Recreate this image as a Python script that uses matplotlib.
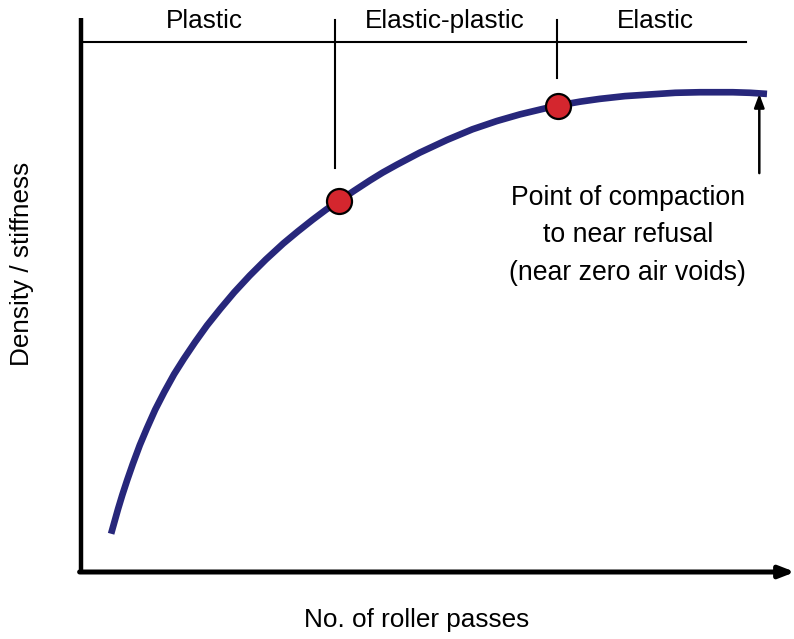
import matplotlib
import matplotlib.pyplot as plt

matplotlib.use('Agg')
plt.rcParams['font.family'] = ['Liberation Sans', 'DejaVu Sans']

# compaction curve (passes vs density, arbitrary units 0-100)
passes = [4.3, 4.7, 5.3, 5.9, 6.6, 7.4, 8.4, 9.4, 10.6, 11.9, 13.3, 14.7,
          16.3, 18.0, 19.9, 21.9, 24.1, 26.4, 28.9, 31.0, 33.1, 35.0, 36.9,
          39.0, 41.3, 43.1, 45.1, 48.4, 52.3, 55.9, 59.4, 62.7, 66.0, 68.1,
          71.3, 74.1, 77.7, 81.3, 84.9, 88.4, 93.1, 95.6, 98.0]
density = [6.9, 8.7, 11.4, 13.9, 16.6, 19.5, 22.9, 25.9, 29.3, 32.5, 35.7, 38.5,
           41.5, 44.5, 47.5, 50.5, 53.5, 56.4, 59.3, 61.5, 63.6, 65.4, 67.0,
           68.8, 70.7, 72.1, 73.5, 75.7, 78.0, 79.9, 81.4, 82.6, 83.6, 84.2,
           84.9, 85.4, 85.9, 86.2, 86.5, 86.6, 86.6, 86.5, 86.3]

# transition points between zones
trans_x = [36.9, 68.1]
trans_y = [67.0, 84.2]

zone_labels = ['Plastic', 'Elastic-plastic', 'Elastic']
zone_centers = [17.6, 52.0, 82.1]
zone_edges = [36.3, 68.0]
zone_tick_bottom = [72.9, 89.2]

refusal_x = 96.9
refusal_y = 86.3
refusal_text = 'Point of compaction\nto near refusal\n(near zero air voids)'

fig = plt.figure(figsize=(7.94, 6.39), dpi=100)
ax = fig.add_axes([81 / 794, 67 / 639, 700 / 794, 554 / 639])
ax.set_xlim(0, 100)
ax.set_ylim(0, 100)
ax.axis('off')

# axes drawn by hand: thick left line, bottom arrow
ax.plot([0, 0], [0, 100], color='black', lw=3.2, clip_on=False, solid_capstyle='butt')
ax.annotate('', xy=(102, 0), xytext=(-0.2, 0),
            arrowprops=dict(arrowstyle='-|>,head_length=0.9,head_width=0.35',
                            color='black', lw=3.6, shrinkA=0, shrinkB=0),
            annotation_clip=False)

# zone bracket along the top
ax.plot([0.3, 95.0], [95.7, 95.7], color='black', lw=1.5, clip_on=False)
for x, yb in zip(zone_edges, zone_tick_bottom):
    ax.plot([x, x], [yb, 99.6], color='black', lw=1.5, clip_on=False)
for lab, xc in zip(zone_labels, zone_centers):
    ax.text(xc, 99.5, lab, ha='center', va='center', fontsize=18.8, clip_on=False)

# the curve and transition points
ax.plot(passes, density, color='#27277b', lw=4.8, solid_capstyle='butt',
        solid_joinstyle='round', clip_on=False)
ax.plot(trans_x, trans_y, 'o', ms=18, mfc='#d4262e', mec='black', mew=1.6, clip_on=False)

# refusal arrow
ax.annotate('', xy=(refusal_x, refusal_y), xytext=(refusal_x, 72.0),
            arrowprops=dict(arrowstyle='-|>,head_length=0.8,head_width=0.3',
                            color='black', lw=1.8, shrinkA=0, shrinkB=0))
ax.text(78.1, 60.8, refusal_text, ha='center', va='center', fontsize=19.2,
        linespacing=1.58)

fig.text(417 / 794, 1 - 620 / 639, 'No. of roller passes', ha='center', va='center',
         fontsize=18.8)
fig.text(22 / 794, 1 - 264 / 639, 'Density / stiffness', ha='center', va='center',
         rotation=90, fontsize=18.8)

fig.savefig('out.png', dpi=100)
